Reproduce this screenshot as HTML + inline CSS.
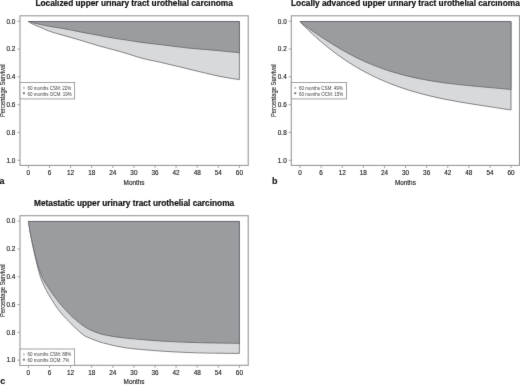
<!DOCTYPE html>
<html><head><meta charset="utf-8"><style>
html,body{margin:0;padding:0;background:#fff;width:520px;height:388px;overflow:hidden}
svg{display:block}
text{font-family:"Liberation Sans",sans-serif;fill:#2a2a2a;stroke:#2a2a2a;stroke-width:0.12px}
.tk{font-size:6.4px;fill:#222;stroke:#222;stroke-width:0.15px}
.yl{font-size:7px;stroke-width:0.1px}
.ti{font-size:8.3px;font-weight:bold;fill:#111;stroke:#111;stroke-width:0.2px}
.lt{font-size:9px;font-weight:bold;fill:#111}
.lg{font-size:4.5px;stroke:none;fill:#3c3c3c}
</style></head><body>
<svg width="520" height="388" viewBox="0 0 520 388">
<rect width="520" height="388" fill="#fff"/>
<defs><filter id="soft" x="0" y="0" width="520" height="388" filterUnits="userSpaceOnUse" color-interpolation-filters="sRGB"><feConvolveMatrix order="3" kernelMatrix="0.01 0.06 0.01 0.06 0.72 0.06 0.01 0.06 0.01" divisor="1" preserveAlpha="true" edgeMode="duplicate"/></filter></defs>
<g filter="url(#soft)">
<rect width="520" height="388" fill="#fff"/>
<path d="M28.4,21.55 C29.25,22.04 31.4,23.5 33.5,24.5 C35.6,25.5 38.33,26.41 41,27.54 C43.67,28.67 46.33,30.14 49.5,31.28 C52.67,32.42 56.58,33.41 60,34.4 C63.42,35.39 66.67,36.25 70,37.2 C73.33,38.15 76.67,39.1 80,40.1 C83.33,41.1 86.67,42.18 90,43.2 C93.33,44.22 96.67,45.27 100,46.2 C103.33,47.13 106.67,47.92 110,48.8 C113.33,49.68 116.67,50.55 120,51.5 C123.33,52.45 126.67,53.47 130,54.5 C133.33,55.53 136.67,56.77 140,57.7 C143.33,58.63 146.67,59.35 150,60.1 C153.33,60.85 156.67,61.45 160,62.2 C163.33,62.95 166.67,63.82 170,64.6 C173.33,65.38 176.67,66.1 180,66.9 C183.33,67.7 186.67,68.58 190,69.4 C193.33,70.22 196.67,71 200,71.8 C203.33,72.6 206.67,73.43 210,74.2 C213.33,74.97 216.67,75.73 220,76.4 C223.33,77.07 226.77,77.67 230,78.2 C233.23,78.73 237.83,79.37 239.4,79.6 L239.4,21.55 Z" fill="#d8d9db" stroke="#5f5f63" stroke-width="0.75" stroke-linejoin="round"/>
<path d="M28.4,21.55 C29.25,21.79 31.4,22.49 33.5,23 C35.6,23.51 38.33,24.03 41,24.6 C43.67,25.17 46.33,25.83 49.5,26.4 C52.67,26.97 56.58,27.43 60,28 C63.42,28.57 66.67,29.2 70,29.85 C73.33,30.5 76.67,31.26 80,31.9 C83.33,32.54 86.67,33.08 90,33.7 C93.33,34.32 96.67,34.97 100,35.6 C103.33,36.23 106.67,36.92 110,37.5 C113.33,38.08 116.67,38.58 120,39.1 C123.33,39.62 126.67,40.08 130,40.6 C133.33,41.12 136.67,41.73 140,42.2 C143.33,42.67 146.67,43 150,43.4 C153.33,43.8 156.67,44.2 160,44.6 C163.33,45 166.67,45.38 170,45.8 C173.33,46.22 176.67,46.7 180,47.1 C183.33,47.5 186.67,47.87 190,48.2 C193.33,48.53 196.67,48.82 200,49.1 C203.33,49.38 206.67,49.62 210,49.9 C213.33,50.18 216.67,50.48 220,50.8 C223.33,51.12 226.77,51.47 230,51.8 C233.23,52.13 237.83,52.63 239.4,52.8 L239.4,21.55 Z" fill="#9b9ca0" stroke="#5f5f63" stroke-width="0.75" stroke-linejoin="round"/>
<rect x="20" y="15.8" width="228.2" height="149.6" fill="none" stroke="#999999" stroke-width="1.1"/>
<line x1="17.4" y1="21.25" x2="20" y2="21.25" stroke="#999999" stroke-width="0.9"/>
<text x="15.4" y="23.55" text-anchor="end" class="tk">0.0</text>
<line x1="17.4" y1="49.05" x2="20" y2="49.05" stroke="#999999" stroke-width="0.9"/>
<text x="15.4" y="51.35" text-anchor="end" class="tk">0.2</text>
<line x1="17.4" y1="76.85" x2="20" y2="76.85" stroke="#999999" stroke-width="0.9"/>
<text x="15.4" y="79.15" text-anchor="end" class="tk">0.4</text>
<line x1="17.4" y1="104.65" x2="20" y2="104.65" stroke="#999999" stroke-width="0.9"/>
<text x="15.4" y="106.95" text-anchor="end" class="tk">0.6</text>
<line x1="17.4" y1="132.45" x2="20" y2="132.45" stroke="#999999" stroke-width="0.9"/>
<text x="15.4" y="134.75" text-anchor="end" class="tk">0.8</text>
<line x1="17.4" y1="160.25" x2="20" y2="160.25" stroke="#999999" stroke-width="0.9"/>
<text x="15.4" y="162.55" text-anchor="end" class="tk">1.0</text>
<line x1="28.4" y1="165.4" x2="28.4" y2="168" stroke="#999999" stroke-width="0.9"/>
<text x="28.4" y="174.7" text-anchor="middle" class="tk">0</text>
<line x1="49.5" y1="165.4" x2="49.5" y2="168" stroke="#999999" stroke-width="0.9"/>
<text x="49.5" y="174.7" text-anchor="middle" class="tk">6</text>
<line x1="70.6" y1="165.4" x2="70.6" y2="168" stroke="#999999" stroke-width="0.9"/>
<text x="70.6" y="174.7" text-anchor="middle" class="tk">12</text>
<line x1="91.7" y1="165.4" x2="91.7" y2="168" stroke="#999999" stroke-width="0.9"/>
<text x="91.7" y="174.7" text-anchor="middle" class="tk">18</text>
<line x1="112.8" y1="165.4" x2="112.8" y2="168" stroke="#999999" stroke-width="0.9"/>
<text x="112.8" y="174.7" text-anchor="middle" class="tk">24</text>
<line x1="133.9" y1="165.4" x2="133.9" y2="168" stroke="#999999" stroke-width="0.9"/>
<text x="133.9" y="174.7" text-anchor="middle" class="tk">30</text>
<line x1="155" y1="165.4" x2="155" y2="168" stroke="#999999" stroke-width="0.9"/>
<text x="155" y="174.7" text-anchor="middle" class="tk">36</text>
<line x1="176.1" y1="165.4" x2="176.1" y2="168" stroke="#999999" stroke-width="0.9"/>
<text x="176.1" y="174.7" text-anchor="middle" class="tk">42</text>
<line x1="197.2" y1="165.4" x2="197.2" y2="168" stroke="#999999" stroke-width="0.9"/>
<text x="197.2" y="174.7" text-anchor="middle" class="tk">48</text>
<line x1="218.3" y1="165.4" x2="218.3" y2="168" stroke="#999999" stroke-width="0.9"/>
<text x="218.3" y="174.7" text-anchor="middle" class="tk">54</text>
<line x1="239.4" y1="165.4" x2="239.4" y2="168" stroke="#999999" stroke-width="0.9"/>
<text x="239.4" y="174.7" text-anchor="middle" class="tk">60</text>
<text x="134.1" y="184.5" text-anchor="middle" class="tk">Months</text>
<text transform="translate(4.9,90.8) rotate(-90) scale(0.84,1)" text-anchor="middle" class="yl">Percentage Survival</text>
<text x="134.1" y="5.6" text-anchor="middle" class="ti">Localized upper urinary tract urothelial carcinoma</text>
<text x="-0.6" y="184.3" class="lt">a</text>
<rect x="20" y="82.5" width="54.6" height="16.4" fill="#fff" stroke="#999999" stroke-width="0.9"/>
<rect x="22.9" y="86.9" width="2" height="2" fill="#c4c4c4"/>
<rect x="22.9" y="92.2" width="2" height="2" fill="#7a7a7a"/>
<text x="27.6" y="89.95" class="lg">60 months CSM: 22%</text>
<text x="27.6" y="95.6" class="lg">60 months OCM: 19%</text>
<path d="M300.1,21.55 C300.58,22.1 302.02,23.78 303,24.83 C303.98,25.88 304.83,26.69 306,27.84 C307.17,28.99 308.5,30.3 310,31.72 C311.5,33.14 313.33,34.86 315,36.37 C316.67,37.88 318.33,39.36 320,40.8 C321.67,42.24 323.33,43.65 325,45.02 C326.67,46.39 328.33,47.73 330,49.04 C331.67,50.35 333.33,51.62 335,52.86 C336.67,54.1 338.33,55.3 340,56.48 C341.67,57.66 343.33,58.8 345,59.92 C346.67,61.04 348.33,62.12 350,63.18 C351.67,64.24 353.33,65.26 355,66.26 C356.67,67.26 358.33,68.23 360,69.18 C361.67,70.13 363.33,71.05 365,71.94 C366.67,72.83 368.33,73.7 370,74.54 C371.67,75.38 373.33,76.2 375,76.99 C376.67,77.78 377.5,78.21 380,79.3 C382.5,80.39 386.67,82.2 390,83.52 C393.33,84.84 396.67,86.07 400,87.24 C403.33,88.41 406.67,89.49 410,90.52 C413.33,91.55 416.67,92.5 420,93.4 C423.33,94.3 426.67,95.14 430,95.94 C433.33,96.74 436.67,97.47 440,98.18 C443.33,98.89 446.17,99.46 450,100.18 C453.83,100.9 458.83,101.79 463,102.5 C467.17,103.21 470.5,103.73 475,104.44 C479.5,105.15 484,105.81 490,106.74 C496,107.67 507.5,109.46 511,110 L511,21.55 Z" fill="#d8d9db" stroke="#5f5f63" stroke-width="0.75" stroke-linejoin="round"/>
<path d="M300.1,21.55 C300.58,22 302.02,23.41 303,24.22 C303.98,25.03 304.83,25.56 306,26.4 C307.17,27.24 308.5,28.2 310,29.25 C311.5,30.3 313.33,31.58 315,32.73 C316.67,33.88 318.33,35.01 320,36.12 C321.67,37.23 323.33,38.33 325,39.41 C326.67,40.49 328.33,41.55 330,42.6 C331.67,43.65 333.33,44.68 335,45.69 C336.67,46.7 338.33,47.7 340,48.67 C341.67,49.64 343.33,50.6 345,51.53 C346.67,52.46 348.33,53.38 350,54.27 C351.67,55.16 353.33,56.04 355,56.88 C356.67,57.73 358.33,58.55 360,59.34 C361.67,60.14 363.33,60.9 365,61.65 C366.67,62.4 368.33,63.12 370,63.82 C371.67,64.52 373.33,65.19 375,65.85 C376.67,66.5 377.5,66.86 380,67.75 C382.5,68.64 386.67,70.1 390,71.16 C393.33,72.22 396.67,73.2 400,74.11 C403.33,75.02 406.67,75.86 410,76.64 C413.33,77.42 416.67,78.14 420,78.81 C423.33,79.48 426.67,80.08 430,80.65 C433.33,81.22 436.67,81.73 440,82.22 C443.33,82.7 446.17,83.09 450,83.56 C453.83,84.03 458.83,84.59 463,85.03 C467.17,85.47 470.5,85.79 475,86.21 C479.5,86.63 484,87.02 490,87.57 C496,88.12 507.5,89.18 511,89.5 L511,21.55 Z" fill="#9b9ca0" stroke="#5f5f63" stroke-width="0.75" stroke-linejoin="round"/>
<rect x="291.3" y="15.8" width="228.2" height="149.6" fill="none" stroke="#999999" stroke-width="1.1"/>
<line x1="288.7" y1="21.25" x2="291.3" y2="21.25" stroke="#999999" stroke-width="0.9"/>
<text x="286.7" y="23.55" text-anchor="end" class="tk">0.0</text>
<line x1="288.7" y1="49.05" x2="291.3" y2="49.05" stroke="#999999" stroke-width="0.9"/>
<text x="286.7" y="51.35" text-anchor="end" class="tk">0.2</text>
<line x1="288.7" y1="76.85" x2="291.3" y2="76.85" stroke="#999999" stroke-width="0.9"/>
<text x="286.7" y="79.15" text-anchor="end" class="tk">0.4</text>
<line x1="288.7" y1="104.65" x2="291.3" y2="104.65" stroke="#999999" stroke-width="0.9"/>
<text x="286.7" y="106.95" text-anchor="end" class="tk">0.6</text>
<line x1="288.7" y1="132.45" x2="291.3" y2="132.45" stroke="#999999" stroke-width="0.9"/>
<text x="286.7" y="134.75" text-anchor="end" class="tk">0.8</text>
<line x1="288.7" y1="160.25" x2="291.3" y2="160.25" stroke="#999999" stroke-width="0.9"/>
<text x="286.7" y="162.55" text-anchor="end" class="tk">1.0</text>
<line x1="300.05" y1="165.4" x2="300.05" y2="168" stroke="#999999" stroke-width="0.9"/>
<text x="300.05" y="174.7" text-anchor="middle" class="tk">0</text>
<line x1="321.15" y1="165.4" x2="321.15" y2="168" stroke="#999999" stroke-width="0.9"/>
<text x="321.15" y="174.7" text-anchor="middle" class="tk">6</text>
<line x1="342.25" y1="165.4" x2="342.25" y2="168" stroke="#999999" stroke-width="0.9"/>
<text x="342.25" y="174.7" text-anchor="middle" class="tk">12</text>
<line x1="363.35" y1="165.4" x2="363.35" y2="168" stroke="#999999" stroke-width="0.9"/>
<text x="363.35" y="174.7" text-anchor="middle" class="tk">18</text>
<line x1="384.45" y1="165.4" x2="384.45" y2="168" stroke="#999999" stroke-width="0.9"/>
<text x="384.45" y="174.7" text-anchor="middle" class="tk">24</text>
<line x1="405.55" y1="165.4" x2="405.55" y2="168" stroke="#999999" stroke-width="0.9"/>
<text x="405.55" y="174.7" text-anchor="middle" class="tk">30</text>
<line x1="426.65" y1="165.4" x2="426.65" y2="168" stroke="#999999" stroke-width="0.9"/>
<text x="426.65" y="174.7" text-anchor="middle" class="tk">36</text>
<line x1="447.75" y1="165.4" x2="447.75" y2="168" stroke="#999999" stroke-width="0.9"/>
<text x="447.75" y="174.7" text-anchor="middle" class="tk">42</text>
<line x1="468.85" y1="165.4" x2="468.85" y2="168" stroke="#999999" stroke-width="0.9"/>
<text x="468.85" y="174.7" text-anchor="middle" class="tk">48</text>
<line x1="489.95" y1="165.4" x2="489.95" y2="168" stroke="#999999" stroke-width="0.9"/>
<text x="489.95" y="174.7" text-anchor="middle" class="tk">54</text>
<line x1="511.05" y1="165.4" x2="511.05" y2="168" stroke="#999999" stroke-width="0.9"/>
<text x="511.05" y="174.7" text-anchor="middle" class="tk">60</text>
<text x="405.4" y="184.5" text-anchor="middle" class="tk">Months</text>
<text transform="translate(276.2,90.8) rotate(-90) scale(0.84,1)" text-anchor="middle" class="yl">Percentage Survival</text>
<text x="405.4" y="5.6" text-anchor="middle" class="ti">Locally advanced upper urinary tract urothelial carcinoma</text>
<text x="271.9" y="184.3" class="lt">b</text>
<rect x="291.3" y="82.5" width="55.2" height="16.4" fill="#fff" stroke="#999999" stroke-width="0.9"/>
<rect x="294.2" y="86.9" width="2" height="2" fill="#c4c4c4"/>
<rect x="294.2" y="92.2" width="2" height="2" fill="#7a7a7a"/>
<text x="298.9" y="89.95" class="lg">60 months CSM: 49%</text>
<text x="298.9" y="95.6" class="lg">60 months OCM: 15%</text>
<path d="M28.5,221.45 C28.73,223.03 29.25,227.18 29.9,230.9 C30.55,234.62 31.52,239.5 32.4,243.8 C33.28,248.1 34.27,252.58 35.2,256.7 C36.13,260.82 36.88,264.44 38,268.5 C39.12,272.56 40.48,277.37 41.9,281.05 C43.32,284.73 44.95,287.64 46.5,290.6 C48.05,293.56 49.35,295.8 51.2,298.8 C53.05,301.8 55.4,305.6 57.6,308.6 C59.8,311.6 62.5,314.65 64.4,316.8 C66.3,318.95 67.4,319.85 69,321.5 C70.6,323.15 72.33,325.07 74,326.7 C75.67,328.33 77.17,329.75 79,331.3 C80.83,332.85 83.17,334.85 85,336 C86.83,337.15 88.33,337.52 90,338.22 C91.67,338.92 93.33,339.56 95,340.21 C96.67,340.86 98.33,341.57 100,342.1 C101.67,342.63 102.5,342.78 105,343.4 C107.5,344.02 111.67,345.08 115,345.8 C118.33,346.52 121.67,347.18 125,347.7 C128.33,348.22 129.17,348.35 135,348.9 C140.83,349.45 150.83,350.38 160,351 C169.17,351.62 180,352.23 190,352.6 C200,352.98 211.77,353.12 220,353.25 C228.23,353.38 236.17,353.38 239.4,353.4 L239.4,221.45 Z" fill="#d8d9db" stroke="#5f5f63" stroke-width="0.75" stroke-linejoin="round"/>
<path d="M28.5,221.45 C28.73,223.03 29.23,227.18 29.9,230.9 C30.57,234.62 31.57,239.5 32.5,243.8 C33.43,248.1 34.45,252.58 35.5,256.7 C36.55,260.82 37.5,264.68 38.8,268.5 C40.1,272.32 41.63,276.32 43.3,279.6 C44.97,282.88 46.98,285.43 48.8,288.2 C50.62,290.97 52.07,293.32 54.2,296.2 C56.33,299.08 59.43,302.92 61.6,305.5 C63.77,308.08 65.47,309.85 67.2,311.7 C68.93,313.55 70.37,315.08 72,316.6 C73.63,318.12 75.33,319.42 77,320.8 C78.67,322.18 80.33,323.67 82,324.9 C83.67,326.13 85.33,327.23 87,328.2 C88.67,329.17 90.33,329.96 92,330.7 C93.67,331.44 95.33,332.05 97,332.65 C98.67,333.25 99.83,333.76 102,334.3 C104.17,334.84 107,335.38 110,335.9 C113,336.42 116.67,337.02 120,337.45 C123.33,337.88 126.67,338.18 130,338.5 C133.33,338.82 135,338.98 140,339.4 C145,339.82 151.67,340.5 160,341 C168.33,341.5 180,342.05 190,342.4 C200,342.75 211.77,342.93 220,343.1 C228.23,343.27 236.17,343.35 239.4,343.4 L239.4,221.45 Z" fill="#9b9ca0" stroke="#5f5f63" stroke-width="0.75" stroke-linejoin="round"/>
<rect x="20" y="215.7" width="228.2" height="149.6" fill="none" stroke="#999999" stroke-width="1.1"/>
<line x1="17.4" y1="221.15" x2="20" y2="221.15" stroke="#999999" stroke-width="0.9"/>
<text x="15.4" y="223.45" text-anchor="end" class="tk">0.0</text>
<line x1="17.4" y1="248.95" x2="20" y2="248.95" stroke="#999999" stroke-width="0.9"/>
<text x="15.4" y="251.25" text-anchor="end" class="tk">0.2</text>
<line x1="17.4" y1="276.75" x2="20" y2="276.75" stroke="#999999" stroke-width="0.9"/>
<text x="15.4" y="279.05" text-anchor="end" class="tk">0.4</text>
<line x1="17.4" y1="304.55" x2="20" y2="304.55" stroke="#999999" stroke-width="0.9"/>
<text x="15.4" y="306.85" text-anchor="end" class="tk">0.6</text>
<line x1="17.4" y1="332.35" x2="20" y2="332.35" stroke="#999999" stroke-width="0.9"/>
<text x="15.4" y="334.65" text-anchor="end" class="tk">0.8</text>
<line x1="17.4" y1="360.15" x2="20" y2="360.15" stroke="#999999" stroke-width="0.9"/>
<text x="15.4" y="362.45" text-anchor="end" class="tk">1.0</text>
<line x1="28.4" y1="365.3" x2="28.4" y2="367.9" stroke="#999999" stroke-width="0.9"/>
<text x="28.4" y="374.6" text-anchor="middle" class="tk">0</text>
<line x1="49.5" y1="365.3" x2="49.5" y2="367.9" stroke="#999999" stroke-width="0.9"/>
<text x="49.5" y="374.6" text-anchor="middle" class="tk">6</text>
<line x1="70.6" y1="365.3" x2="70.6" y2="367.9" stroke="#999999" stroke-width="0.9"/>
<text x="70.6" y="374.6" text-anchor="middle" class="tk">12</text>
<line x1="91.7" y1="365.3" x2="91.7" y2="367.9" stroke="#999999" stroke-width="0.9"/>
<text x="91.7" y="374.6" text-anchor="middle" class="tk">18</text>
<line x1="112.8" y1="365.3" x2="112.8" y2="367.9" stroke="#999999" stroke-width="0.9"/>
<text x="112.8" y="374.6" text-anchor="middle" class="tk">24</text>
<line x1="133.9" y1="365.3" x2="133.9" y2="367.9" stroke="#999999" stroke-width="0.9"/>
<text x="133.9" y="374.6" text-anchor="middle" class="tk">30</text>
<line x1="155" y1="365.3" x2="155" y2="367.9" stroke="#999999" stroke-width="0.9"/>
<text x="155" y="374.6" text-anchor="middle" class="tk">36</text>
<line x1="176.1" y1="365.3" x2="176.1" y2="367.9" stroke="#999999" stroke-width="0.9"/>
<text x="176.1" y="374.6" text-anchor="middle" class="tk">42</text>
<line x1="197.2" y1="365.3" x2="197.2" y2="367.9" stroke="#999999" stroke-width="0.9"/>
<text x="197.2" y="374.6" text-anchor="middle" class="tk">48</text>
<line x1="218.3" y1="365.3" x2="218.3" y2="367.9" stroke="#999999" stroke-width="0.9"/>
<text x="218.3" y="374.6" text-anchor="middle" class="tk">54</text>
<line x1="239.4" y1="365.3" x2="239.4" y2="367.9" stroke="#999999" stroke-width="0.9"/>
<text x="239.4" y="374.6" text-anchor="middle" class="tk">60</text>
<text x="134.1" y="384.4" text-anchor="middle" class="tk">Months</text>
<text transform="translate(4.9,290.7) rotate(-90) scale(0.84,1)" text-anchor="middle" class="yl">Percentage Survival</text>
<text x="134.1" y="205.5" text-anchor="middle" class="ti">Metastatic upper urinary tract urothelial carcinoma</text>
<text x="0.3" y="384.2" class="lt">c</text>
<rect x="20" y="349" width="54.6" height="16.4" fill="#fff" stroke="#999999" stroke-width="0.9"/>
<rect x="22.9" y="353.4" width="2" height="2" fill="#c4c4c4"/>
<rect x="22.9" y="358.7" width="2" height="2" fill="#7a7a7a"/>
<text x="27.6" y="356.45" class="lg">60 months CSM: 88%</text>
<text x="27.6" y="362.1" class="lg">60 months OCM: 7%</text>
</g>
</svg>
</body></html>
